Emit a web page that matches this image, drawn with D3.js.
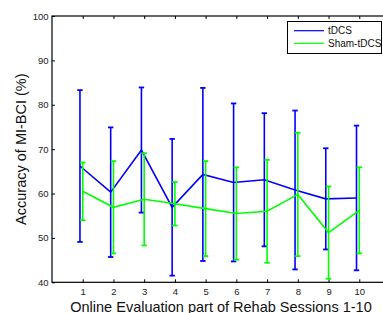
<!DOCTYPE html>
<html>
<head>
<meta charset="utf-8">
<script src="https://cdn.jsdelivr.net/npm/d3@7"></script>
<style>
  body { margin: 0; background: #fff; }
  svg { display: block; font-family: "Liberation Sans", Arial, sans-serif; }
</style>
</head>
<body>
<div id="chart"></div>
<script>
// session numbers and tick labels
var sessions = [1, 2, 3, 4, 5, 6, 7, 8, 9, 10];
var xTickLabels = ["1", "2", "3", "4", "5", "6", "7", "8", "9", "10"];
var yTicks = [40, 50, 60, 70, 80, 90, 100];
// tDCS mean accuracy and error bar half length
var tdcsMean = [66.2, 60.3, 69.8, 56.9, 64.3, 62.5, 63.1, 60.8, 58.8, 59.0];
var tdcsErr = [17.1, 14.6, 14.1, 15.4, 19.5, 17.8, 15.0, 17.9, 11.4, 16.3];
// Sham-tDCS mean accuracy and error bar half length
var shamMean = [60.5, 56.9, 58.7, 57.7, 56.6, 55.5, 56.0, 59.8, 51.2, 56.2];
var shamErr = [6.5, 10.4, 10.4, 4.9, 10.7, 10.4, 11.6, 13.9, 10.4, 9.7];

var W = 383, H = 313;
var svg = d3.select("#chart").append("svg").attr("width", W).attr("height", H);

var x = d3.scaleLinear().domain([0, 11]).range([52, 390]);
var y = d3.scaleLinear().domain([40, 100]).range([282.3, 16]);

// axes box (right side runs off the picture)
svg.append("rect")
    .attr("x", x(0)).attr("y", y(100))
    .attr("width", x(11) - x(0)).attr("height", y(40) - y(100))
    .attr("fill", "none").attr("stroke", "#000").attr("stroke-width", 1.2);

// inward ticks
var tickLen = 3;
var gx = svg.append("g").attr("transform", "translate(0," + y(40) + ")")
    .call(d3.axisBottom(x).tickValues(sessions).tickFormat(function (d, i) { return xTickLabels[i]; })
        .tickSizeInner(-tickLen).tickSizeOuter(0).tickPadding(5.5));
var gt = svg.append("g").attr("transform", "translate(0," + y(100) + ")")
    .call(d3.axisTop(x).tickValues(sessions).tickFormat("").tickSizeInner(-tickLen).tickSizeOuter(0));
var gy = svg.append("g").attr("transform", "translate(" + x(0) + ",0)")
    .call(d3.axisLeft(y).tickValues(yTicks).tickSizeInner(-tickLen).tickSizeOuter(0).tickPadding(3.5));
[gx, gt, gy].forEach(function (g) {
    g.select(".domain").remove();
    g.selectAll("line").attr("stroke", "#000").attr("stroke-width", 1);
    g.selectAll("text").attr("fill", "#222").style("font-size", "9.5px")
        .style("font-family", "'Liberation Sans', Arial, sans-serif");
});

// blue is drawn slightly left of each session
var series = [
    {name: "tDCS", mean: tdcsMean, err: tdcsErr, color: "#0000ff", shift: -0.09},
    {name: "Sham-tDCS", mean: shamMean, err: shamErr, color: "#00ff00", shift: 0}
];

var line = d3.line();
var capW = 2.7;
series.forEach(function (s) {
    var g = svg.append("g");
    var pts = sessions.map(function (d, i) { return [x(d + s.shift), y(s.mean[i])]; });
    sessions.forEach(function (d, i) {
        var cx = x(d + s.shift), top = y(s.mean[i] + s.err[i]), bot = y(s.mean[i] - s.err[i]);
        g.append("line").attr("x1", cx).attr("x2", cx).attr("y1", top).attr("y2", bot)
            .attr("stroke", s.color).attr("stroke-width", 1.6);
        g.append("line").attr("x1", cx - capW).attr("x2", cx + capW).attr("y1", top).attr("y2", top)
            .attr("stroke", s.color).attr("stroke-width", 1.8);
        g.append("line").attr("x1", cx - capW).attr("x2", cx + capW).attr("y1", bot).attr("y2", bot)
            .attr("stroke", s.color).attr("stroke-width", 1.8);
    });
    g.append("path").attr("d", line(pts)).attr("fill", "none")
        .attr("stroke", s.color).attr("stroke-width", 1.6);
});

// legend
var lg = svg.append("g");
lg.append("rect").attr("x", 287.5).attr("y", 21.5).attr("width", 94).attr("height", 32)
    .attr("fill", "#fff").attr("stroke", "#000").attr("stroke-width", 1);
series.forEach(function (s, i) {
    var ly = 30.7 + i * 12.6;
    lg.append("line").attr("x1", 294).attr("x2", 324).attr("y1", ly).attr("y2", ly)
        .attr("stroke", s.color).attr("stroke-width", 1.2);
    lg.append("text").attr("x", 328).attr("y", ly + 3.6).text(s.name)
        .style("font-size", "10px").attr("fill", "#111");
});

// axis titles
svg.append("text").attr("x", (x(0) + x(11)) / 2).attr("y", 311.5)
    .attr("text-anchor", "middle").style("font-size", "14.5px").attr("fill", "#111")
    .text("Online Evaluation part of Rehab Sessions 1-10");
svg.append("text").attr("transform", "translate(26," + (y(70)) + ") rotate(-90)")
    .attr("text-anchor", "middle").style("font-size", "14.5px").attr("fill", "#111")
    .text("Accuracy of MI-BCI (%)");
</script>
</body>
</html>
